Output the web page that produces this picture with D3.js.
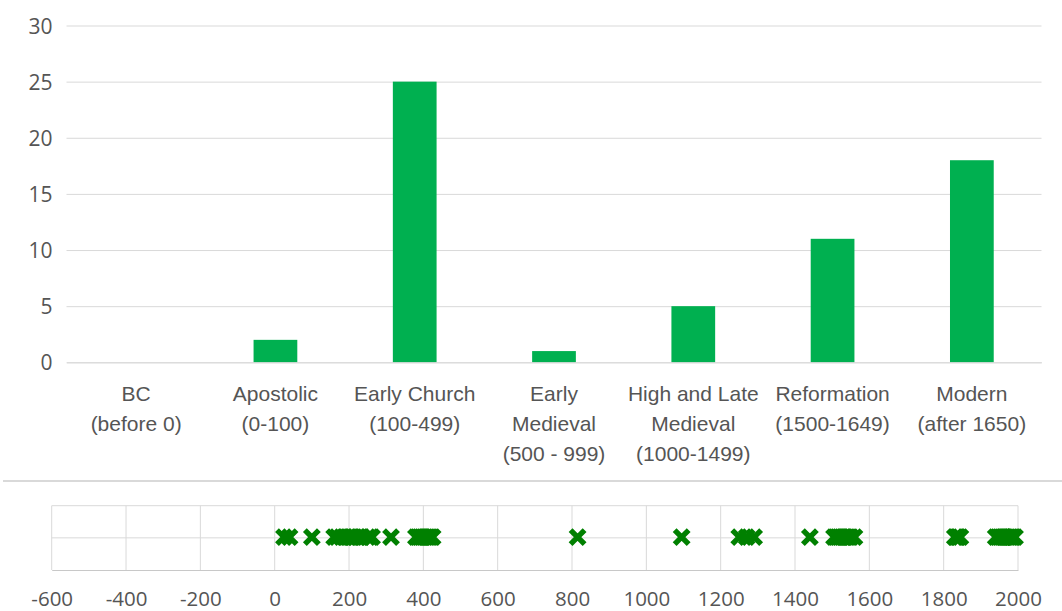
<!DOCTYPE html>
<html>
<head>
<meta charset="utf-8">
<script src="https://cdn.jsdelivr.net/npm/d3@7"></script>
<style>
  html, body { margin: 0; padding: 0; background: #fff; }
  svg { display: block; font-family: "Open Sans", sans-serif; }
</style>
</head>
<body>
<svg id="chart" width="1062" height="611"></svg>
<script>
// ---- Data ----
const categories = [
  ["BC", "(before 0)"],
  ["Apostolic", "(0-100)"],
  ["Early Church", "(100-499)"],
  ["Early", "Medieval", "(500 - 999)"],
  ["High and Late", "Medieval", "(1000-1499)"],
  ["Reformation", "(1500-1649)"],
  ["Modern", "(after 1650)"]
];
const counts = [0, 2, 25, 1, 5, 11, 18];
const yTicks = [0, 5, 10, 15, 20, 25, 30];

const yearsApostolic = [25, 40];
const yearsEarlyChurch = [100, 160, 168, 180, 190, 200, 205, 210, 215, 225, 235, 250, 258, 262, 313,
                          380, 385, 390, 395, 400, 405, 410, 415, 420, 425];
const yearsEarlyMedieval = [815];
const yearsHighLate = [1095, 1250, 1270, 1290, 1440];
const yearsReformation = [1505, 1510, 1515, 1520, 1525, 1530, 1535, 1540, 1545, 1550, 1560];
const yearsModern = [1830, 1833, 1837, 1840, 1845, 1940, 1945, 1950, 1955, 1960, 1962, 1965,
                     1970, 1975, 1980, 1984, 1988, 1992];
const timelineTicks = [-600, -400, -200, 0, 200, 400, 600, 800, 1000, 1200, 1400, 1600, 1800, 2000];

const allYears = [].concat(yearsApostolic, yearsEarlyChurch, yearsEarlyMedieval,
                           yearsHighLate, yearsReformation, yearsModern);

// ---- Styles ----
const textColor = "#555555";
const gridColor = "#d9d9d9";
const barColor = "#00b050";
const markColor = "#008000";
const fontSize = 21;

const svg = d3.select("#chart");

// ---- Top bar chart ----
const x = d3.scaleBand().domain(d3.range(categories.length)).range([66.5, 1041.5]).padding(0);
const y = d3.scaleLinear().domain([0, 30]).range([362.3, 25.5]);
const barFrac = 0.314;

const yAxis = d3.axisLeft(y).tickValues(yTicks).tickSize(-(1041.5 - 66.5)).tickPadding(14);
const gy = svg.append("g").attr("transform", "translate(66.5,0)").call(yAxis);
gy.select(".domain").remove();
gy.selectAll(".tick line").attr("stroke", gridColor).attr("stroke-width", 1);
gy.selectAll(".tick text").attr("fill", textColor).attr("font-size", fontSize)
  .attr("font-family", "Open Sans, sans-serif").attr("dy", "0.36em");

svg.append("g").selectAll("rect").data(counts).join("rect")
  .attr("x", (d, i) => x(i) + x.bandwidth() * (1 - barFrac) / 2)
  .attr("width", x.bandwidth() * barFrac)
  .attr("y", d => y(d))
  .attr("height", d => y(0) - y(d))
  .attr("fill", barColor);

const xAxis = d3.axisBottom(x).tickSize(0).tickFormat("");
const gx = svg.append("g").attr("transform", `translate(0,${y(0)})`).call(xAxis);
gx.select(".domain").attr("stroke", gridColor).attr("stroke-width", 1);
gx.selectAll(".tick").each(function (d) {
  const t = d3.select(this).append("text")
    .attr("fill", textColor).attr("font-size", fontSize)
    .attr("text-anchor", "middle");
  categories[d].forEach((line, k) => {
    t.append("tspan").attr("x", 0).attr("y", 38.5 + k * 30).text(line);
  });
});

// separator line
svg.append("line").attr("x1", 3).attr("x2", 1062).attr("y1", 481).attr("y2", 481)
  .attr("stroke", gridColor).attr("stroke-width", 2);

// ---- Bottom timeline strip ----
const tx = d3.scaleLinear().domain([-600, 2000]).range([51.7, 1018]);
const ty = d3.scaleLinear().domain([0, 2]).range([570, 505.7]);

const gridX = svg.append("g");
gridX.selectAll("line.v").data(timelineTicks).join("line").attr("class", "v")
  .attr("x1", d => tx(d)).attr("x2", d => tx(d))
  .attr("y1", ty(0)).attr("y2", ty(2))
  .attr("stroke", gridColor).attr("stroke-width", 1);
gridX.selectAll("line.h").data([1, 2]).join("line").attr("class", "h")
  .attr("x1", tx(-600)).attr("x2", tx(2000))
  .attr("y1", d => ty(d)).attr("y2", d => ty(d))
  .attr("stroke", gridColor).attr("stroke-width", 1);

const txAxis = d3.axisBottom(tx).tickValues(timelineTicks).tickSize(0).tickPadding(21)
  .tickFormat(d => String(d));
const gtx = svg.append("g").attr("transform", `translate(0,${ty(0)})`).call(txAxis);
gtx.select(".domain").attr("stroke", "#c8c8c8").attr("stroke-width", 1.2);
gtx.selectAll(".tick text").attr("fill", textColor).attr("font-size", 20.5)
  .attr("font-family", "Open Sans, sans-serif");

const sym = d3.symbol().type(d3.symbolX).size(130);
svg.append("g").selectAll("path").data(allYears).join("path")
  .attr("d", sym)
  .attr("transform", d => `translate(${tx(d)},${ty(1) - 0.8})`)
  .attr("fill", "none")
  .attr("stroke", markColor)
  .attr("stroke-width", 5.4);
</script>
</body>
</html>
